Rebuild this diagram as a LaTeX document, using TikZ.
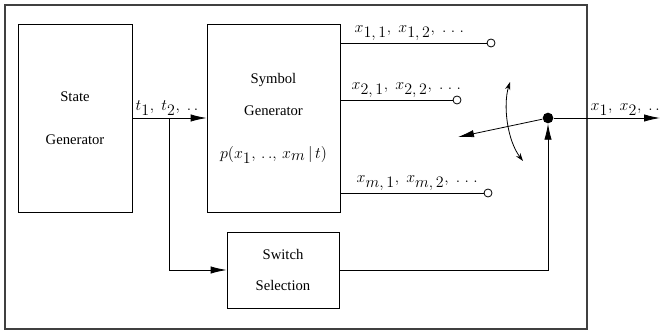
\documentclass[tikz,border=0pt]{standalone}
\usepackage{amsmath,amssymb}
\usepackage[no-math]{fontspec}
\setmainfont{Liberation Serif}
\usepackage{xcolor}
\usetikzlibrary{arrows.meta,positioning,calc}

\begin{document}
\begin{tikzpicture}[
x=0.75pt, y=-0.75pt,
line width=0.6pt,
block/.style={
    draw,
    rectangle,
    align=center,
    font=\fontsize{11}{13.2}\selectfont
},
arrow/.style={
    -{Latex[length=12pt,width=5.5pt]}
},
port/.style={
    draw,
    circle,
    fill=white,
    inner sep=0pt,
    minimum size=6pt
},
seq/.style={
    anchor=south west,
    inner sep=1pt,
    font=\large
}
]

\useasboundingbox (0,0) rectangle (663,331);
\draw[line width=0.9pt, black!75] (5,5) rectangle (587,329);

\node[block, minimum width=85.5pt, minimum height=141pt] (state) at (75,118)
{State\\[19pt]Generator};

\node[block, minimum width=99.75pt, minimum height=141pt] (symb) at (273.5,118)
{Symbol\\[11pt]Generator\\[19pt]%
{\large $p(x_{\textstyle 1},\,.\,.,\,x_{\textstyle m}\,|\,t)$}};

\node[block, minimum width=84pt, minimum height=57pt] (switch) at (283,270)
{Switch\\[10pt]Selection};

\node[circle, fill, inner sep=0pt, minimum size=8pt] (dot) at (548,118) {};

% symbol outputs
\node[port] (p1) at (491,43) {};
\node[port] (p2) at (457,100) {};
\node[port] (pm) at (488,193) {};

\draw (symb.east |- p1) -- (p1);
\draw (symb.east |- p2) -- (p2);
\draw (symb.east |- pm) -- (pm);

\node[seq] (l1) at (353,42) {$x_{\textstyle 1,1},\; x_{\textstyle 1,2},\; .\;.\;.$};
\node[seq] (l2) at (350,99) {$x_{\textstyle 2,1},\; x_{\textstyle 2,2},\; .\;.\;.$};
\node[seq] (lm) at (355,192) {$x_{\textstyle m,1},\; x_{\textstyle m,2},\; .\;.\;.$};

% state sequence
\coordinate (branch) at ($(state.east)!0.5!(symb.west)$);
\draw[arrow] (state.east) -- (symb.west);
\draw[arrow] (branch) |- (switch.west);
\node[seq] (tl) at (134,117) {$t_{\textstyle 1},\; t_{\textstyle 2},\; .\,.$};

% switch
\draw[arrow] (switch.east) -| (dot.south);
\coordinate (out) at (660,118);
\coordinate (lever) at (458,137);
\draw[arrow] (dot) -- (out);
\draw[arrow] (dot) -- (lever);
\node[seq] (ol) at (589,117) {$x_{\textstyle 1},\; x_{\textstyle 2},\; .\,.$};

\coordinate (swtop) at (510,82);
\coordinate (swbot) at (523,161);
\draw[{Stealth[length=6pt,width=4pt]}-{Stealth[length=6pt,width=4pt]}]
  (swtop) .. controls (503,105) and (507,140) .. (swbot);

\end{tikzpicture}
\end{document}
